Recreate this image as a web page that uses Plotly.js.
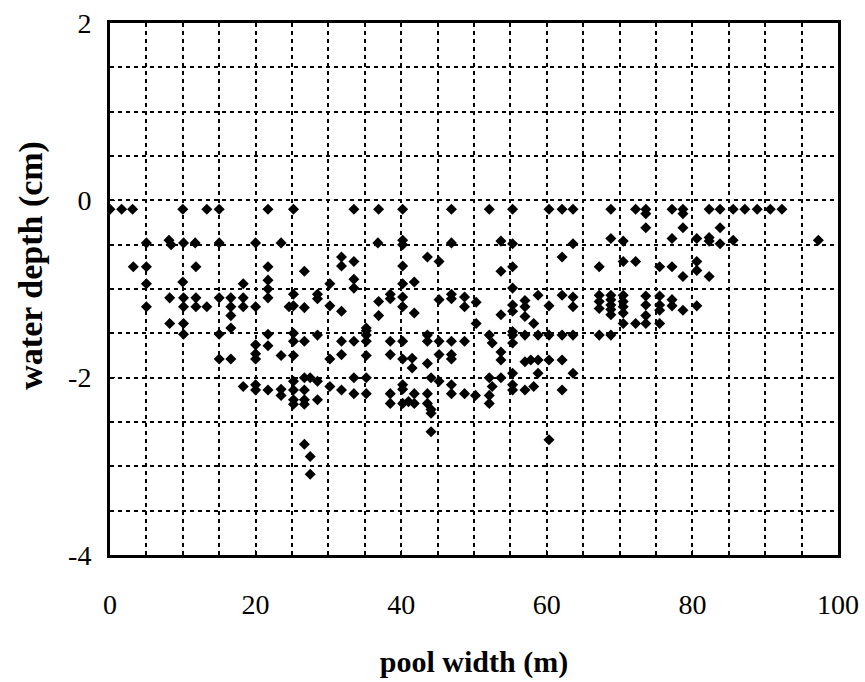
<!DOCTYPE html>
<html>
<head>
<meta charset="utf-8">
<script src="https://cdn.plot.ly/plotly-3.0.1.min.js"></script>
<style>
html,body{margin:0;padding:0;background:#fff;}
#chart{width:865px;height:682px;}
</style>
</head>
<body>
<div id="chart"></div>
<script>
// pool width (m)
const poolWidth = [
  0,1.6,3.1,10,13.3,15,21.7,25.2,33.5,36.9,40.2,46.9,52.1,55.3,60.3,62.1,63.6,68.8,72.2,73.6,73.6,77.2,78.7,78.7,82.3,83.8,85.6,87.2,88.9,90.7,92.3,
  73.6,78.7,83.8,
  5,8.1,8.4,10.1,11.7,15,20,23.5,36.8,40.2,40.2,46.9,53.7,55.3,63.6,68.8,70.5,77.2,80.6,82.3,82.3,83.8,85.6,97.3,
  31.8,33.5,43.6,45.2,31.8,40.2,26.7,62.1,70.5,72.2,55.3,67.2,53.7,3.2,5,11.8,21.7,80.6,75.5,77.2,80.6,78.7,82.3,
  33.5,30.2,40.2,41.8,33.5,5,10,18.3,21.7,21.7,55.3,
  21.7,8.2,10.1,11.8,15,16.6,18.3,
  5,10.1,11.8,13.3,16.6,18.3,20,24.6,
  16.6,8.2,10.1,16.6,
  25.2,28.5,28.5,38.5,38.5,40.2,45.2,46.9,46.9,48.7,
  25.2,26.7,30.2,36.9,40.2,48.7,31.8,41.8,36.9,35.2,
  10.1,15,21.7,20,21.7,23.5,15,16.6,20,20,18.3,20,20,21.7,23.5,23.5,
  25.2,28.5,35.2,35.2,43.6,
  25.2,26.7,31.8,33.5,35.2,38.5,40.2,43.6,45.2,46.9,48.7,
  25.2,30.2,31.8,35.2,38.5,40.2,41.5,45.2,46.9,46.9,
  43.6,41.5,
  26.7,27.5,33.5,35.2,44.1,
  25.2,28.5,40.2,40.2,45.2,
  30.2,46.9,
  25.2,26.7,31.8,
  33.5,35.2,38.5,41.8,43.6,46.9,48.7,
  25.2,26.7,28.5,38.5,40.2,41.0,41.8,43.6,
  25.2,26.7,
  44.1,44.1,44.1,26.7,27.5,27.5,
  58.8,62.1,63.6,
  50.3,55.3,57,57,60.3,63.6,
  55.3,53.7,57,
  50.3,58.2,70.5,72.2,
  67.2,67.2,67.2,68.8,68.8,68.8,68.8,68.8,70.5,70.5,70.5,70.5,
  73.6,73.6,73.6,73.6,75.5,75.5,75.5,75.5,77.2,77.2,78.7,80.6,
  52.1,55.3,55.3,57,58.8,60.3,62.1,63.6,67.2,68.8,
  52.5,55.3,
  53.7,53.7,57,57.8,58.8,60.3,62.1,
  55.3,58.8,63.6,
  52.1,53.7,
  52.5,55.3,55.3,57,58.2,62.1,
  50.2,52.1,52.1,60.3
];
// water depth (cm)
const waterDepth = [
  -0.1,-0.1,-0.1,-0.1,-0.1,-0.1,-0.1,-0.1,-0.1,-0.1,-0.1,-0.1,-0.1,-0.1,-0.1,-0.1,-0.1,-0.1,-0.1,-0.1,-0.15,-0.1,-0.1,-0.15,-0.1,-0.1,-0.1,-0.1,-0.1,-0.1,-0.1,
  -0.31,-0.31,-0.31,
  -0.48,-0.45,-0.5,-0.48,-0.48,-0.48,-0.48,-0.48,-0.48,-0.45,-0.5,-0.48,-0.46,-0.49,-0.49,-0.43,-0.46,-0.43,-0.43,-0.42,-0.46,-0.49,-0.45,-0.45,
  -0.64,-0.69,-0.64,-0.69,-0.74,-0.74,-0.8,-0.64,-0.69,-0.69,-0.75,-0.75,-0.8,-0.75,-0.75,-0.75,-0.75,-0.69,-0.75,-0.75,-0.79,-0.86,-0.86,
  -0.89,-0.94,-0.94,-0.92,-0.99,-0.94,-0.92,-0.94,-0.9,-1.0,-0.99,
  -1.1,-1.1,-1.1,-1.1,-1.1,-1.1,-1.1,
  -1.2,-1.2,-1.2,-1.2,-1.2,-1.2,-1.2,-1.2,
  -1.3,-1.39,-1.39,-1.44,
  -1.06,-1.06,-1.11,-1.06,-1.11,-1.09,-1.12,-1.06,-1.11,-1.09,
  -1.19,-1.21,-1.19,-1.14,-1.2,-1.2,-1.25,-1.27,-1.3,-1.44,
  -1.51,-1.51,-1.51,-1.63,-1.64,-1.75,-1.79,-1.79,-1.73,-1.79,-2.1,-2.08,-2.14,-2.14,-2.13,-2.2,
  -1.5,-1.52,-1.47,-1.52,-1.52,
  -1.59,-1.59,-1.59,-1.59,-1.59,-1.59,-1.59,-1.59,-1.59,-1.59,-1.59,
  -1.75,-1.79,-1.74,-1.75,-1.74,-1.79,-1.78,-1.74,-1.74,-1.79,
  -1.84,-1.89,
  -2.0,-2.0,-2.0,-2.0,-2.0,
  -2.04,-2.04,-2.08,-2.13,-2.04,
  -2.1,-2.08,
  -2.14,-2.14,-2.14,
  -2.18,-2.18,-2.18,-2.18,-2.18,-2.18,-2.18,
  -2.25,-2.25,-2.25,-2.29,-2.29,-2.27,-2.29,-2.29,
  -2.3,-2.3,
  -2.36,-2.4,-2.61,-2.75,-2.89,-3.09,
  -1.07,-1.07,-1.09,
  -1.15,-1.18,-1.13,-1.2,-1.19,-1.2,
  -1.25,-1.29,-1.31,
  -1.39,-1.39,-1.39,-1.39,
  -1.07,-1.14,-1.22,-1.07,-1.12,-1.18,-1.23,-1.29,-1.07,-1.14,-1.2,-1.27,
  -1.08,-1.18,-1.3,-1.39,-1.08,-1.18,-1.24,-1.39,-1.12,-1.19,-1.24,-1.19,
  -1.52,-1.48,-1.52,-1.52,-1.52,-1.52,-1.52,-1.52,-1.52,-1.52,
  -1.61,-1.61,
  -1.71,-1.8,-1.82,-1.8,-1.8,-1.8,-1.8,
  -1.95,-1.95,-1.95,
  -2.0,-2.0,
  -2.1,-2.08,-2.14,-2.14,-2.1,-2.14,
  -2.2,-2.2,-2.29,-2.7
];
const xTickVals = [0,20,40,60,80,100];
const yTickVals = [-4,-2,0,2];

const trace = {
  type:'scatter', mode:'markers',
  x: poolWidth, y: waterDepth,
  marker:{symbol:'diamond', size:8.5, color:'#000', line:{width:0}},
  hoverinfo:'skip'
};

const layout = {
  width:865, height:682,
  paper_bgcolor:'#fff', plot_bgcolor:'#fff',
  margin:{l:110, r:27, t:23, b:127},
  showlegend:false,
  font:{family:'"Liberation Serif", "Times New Roman", serif', color:'#000', size:28},
  xaxis:{
    range:[0,100], tickvals:xTickVals, ticktext:xTickVals.map(String),
    showline:true, linecolor:'#000', linewidth:3, mirror:true,
    ticks:'inside', ticklen:5, tickwidth:1, tickcolor:'#000',
    ticklabelstandoff:22,
    zeroline:false,
    showgrid:true, gridcolor:'#000', gridwidth:2, griddash:'4px,4px',
    minor:{dtick:5, tick0:0, showgrid:true, gridcolor:'#000', gridwidth:2, griddash:'4px,4px', ticks:''},
    tickfont:{size:28},
    title:{text:'<b>pool width (m)</b>', font:{size:30}, standoff:33}
  },
  yaxis:{
    range:[-4,2], tickvals:yTickVals, ticktext:yTickVals.map(String),
    showline:true, linecolor:'#000', linewidth:3, mirror:true,
    ticks:'inside', ticklen:5, tickwidth:1, tickcolor:'#000',
    ticklabelstandoff:10,
    zeroline:false,
    showgrid:true, gridcolor:'#000', gridwidth:2, griddash:'4px,4px',
    minor:{dtick:0.5, tick0:0, showgrid:true, gridcolor:'#000', gridwidth:2, griddash:'4px,4px', ticks:''},
    tickfont:{size:28}
  },
  annotations:[{
    text:'<b>water depth (cm)</b>', textangle:-90,
    xref:'paper', yref:'paper', x:-0.109, y:0.545,
    xanchor:'center', yanchor:'middle', showarrow:false,
    font:{size:34}
  }]
};

Plotly.newPlot('chart', [trace], layout, {displayModeBar:false, staticPlot:true});
</script>
</body>
</html>
